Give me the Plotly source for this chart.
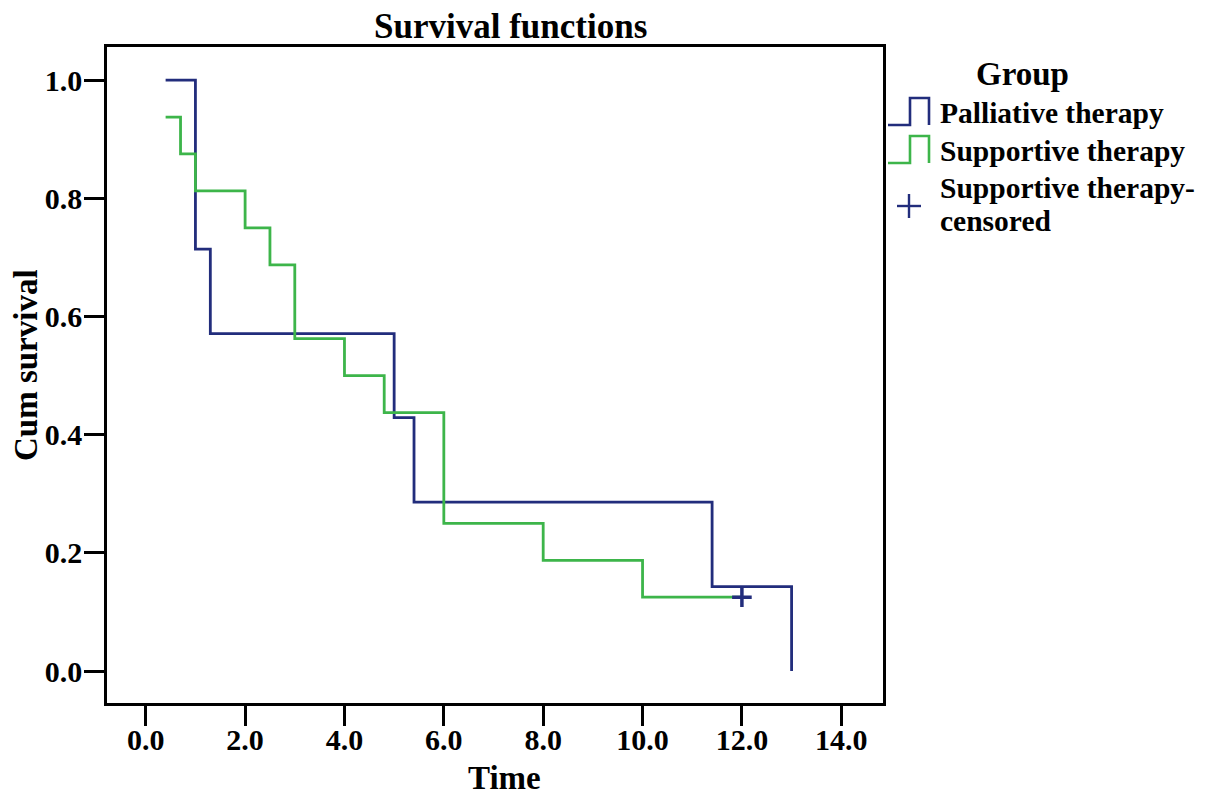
import plotly.graph_objects as go

# ---- data ----
pall_time = [0.4, 1.0, 1.3, 5.0, 5.4, 11.4, 13.0]
pall_surv = [1.0, 0.714, 0.571, 0.429, 0.286, 0.143, 0.0]

supp_time = [0.4, 0.7, 1.0, 2.0, 2.5, 3.0, 4.0, 4.8, 6.0, 8.0, 10.0, 12.0]
supp_surv = [0.9375, 0.875, 0.8125, 0.75, 0.6875, 0.5625, 0.5, 0.4375, 0.25, 0.1875, 0.125, 0.125]

cens_time = [12.0]
cens_surv = [0.125]

x_ticks = [0, 2, 4, 6, 8, 10, 12, 14]
y_ticks = [0.0, 0.2, 0.4, 0.6, 0.8, 1.0]

NAVY = "#222d7c"
GREEN = "#3db54a"
FONT = "Liberation Serif"

OFF = 8  # page body margin offset
W, H = 1205 - 2 * OFF, 803 - 2 * OFF
L, R, T, B = 107 - OFF, 883 - OFF, 47 - OFF, 703 - OFF


def px(x):
    return (x - OFF - L) / (R - L)


def py(y):
    return (B - (y - OFF)) / (B - T)


fig = go.Figure()
fig.add_trace(go.Scatter(x=pall_time, y=pall_surv, mode="lines", line_shape="hv",
                         line=dict(color=NAVY, width=2.8), name="Palliative therapy"))
fig.add_trace(go.Scatter(x=supp_time, y=supp_surv, mode="lines", line_shape="hv",
                         line=dict(color=GREEN, width=2.8), name="Supportive therapy"))
fig.add_trace(go.Scatter(x=cens_time, y=cens_surv, mode="markers",
                         marker=dict(symbol="cross-thin", size=14,
                                     line=dict(color=NAVY, width=3.5)),
                         name="Supportive therapy-censored"))

shapes = []


def step_icon(y_low, y_high, color):
    pts = [(888, y_low), (910, y_low), (910, y_high), (929, y_high), (929, y_low)]
    path = "M " + " L ".join(f"{px(a):.5f},{py(b):.5f}" for a, b in pts)
    shapes.append(dict(type="path", path=path, xref="paper", yref="paper",
                       line=dict(color=color, width=2.6)))


step_icon(125, 98, NAVY)
step_icon(163, 136, GREEN)
# censored plus
shapes.append(dict(type="line", xref="paper", yref="paper", x0=px(897), x1=px(921),
                   y0=py(206), y1=py(206), line=dict(color=NAVY, width=2.4)))
shapes.append(dict(type="line", xref="paper", yref="paper", x0=px(909), x1=px(909),
                   y0=py(194), y1=py(218), line=dict(color=NAVY, width=2.4)))

ann = []
ann.append(dict(text="Group", x=px(1022), y=py(74), xref="paper", yref="paper",
                showarrow=False, xanchor="center", yanchor="middle",
                font=dict(family=FONT, size=33, color="black", weight="bold")))
for txt, yy in [("Palliative therapy", 113), ("Supportive therapy", 151),
                ("Supportive therapy-", 188), ("censored", 221)]:
    ann.append(dict(text=txt, x=px(938), y=py(yy), xref="paper", yref="paper",
                    showarrow=False, xanchor="left", yanchor="middle",
                    font=dict(family=FONT, size=29.5, color="black", weight="bold")))
ann.append(dict(text="Survival functions", x=px(510), y=py(27), xref="paper", yref="paper",
                showarrow=False, xanchor="center", yanchor="middle",
                font=dict(family=FONT, size=35, color="black", weight="bold")))
ann.append(dict(text="Cum survival", x=px(26), y=py(365), xref="paper", yref="paper",
                showarrow=False, xanchor="center", yanchor="middle", textangle=-90,
                font=dict(family=FONT, size=33, color="black", weight="bold")))
ann.append(dict(text="Time", x=px(505), y=py(778), xref="paper", yref="paper",
                showarrow=False, xanchor="center", yanchor="middle",
                font=dict(family=FONT, size=33, color="black", weight="bold")))

tickfont = dict(family=FONT, size=30, color="black", weight="bold")

fig.update_layout(
    width=W, height=H,
    margin=dict(l=L, r=W - R, t=T, b=H - B, pad=0),
    paper_bgcolor="white", plot_bgcolor="white",
    showlegend=False,
    shapes=shapes, annotations=ann,
    xaxis=dict(range=[-0.78, 14.84], tickvals=x_ticks,
               ticktext=[f"{v:.1f}" for v in x_ticks],
               showgrid=False, zeroline=False, showline=True, mirror=True,
               linecolor="black", linewidth=2.5, ticks="outside", ticklen=20,
               tickwidth=2.5, tickcolor="black", tickfont=tickfont,
               ticklabelstandoff=-12),
    yaxis=dict(range=[-0.054, 1.056], tickvals=y_ticks,
               ticktext=[f"{v:.1f}" for v in y_ticks],
               showgrid=False, zeroline=False, showline=True, mirror=True,
               linecolor="black", linewidth=2.5, ticks="outside", ticklen=20,
               tickwidth=2.5, tickcolor="black", tickfont=tickfont,
               ticklabelstandoff=-4),
)

fig.write_html("out.html")
